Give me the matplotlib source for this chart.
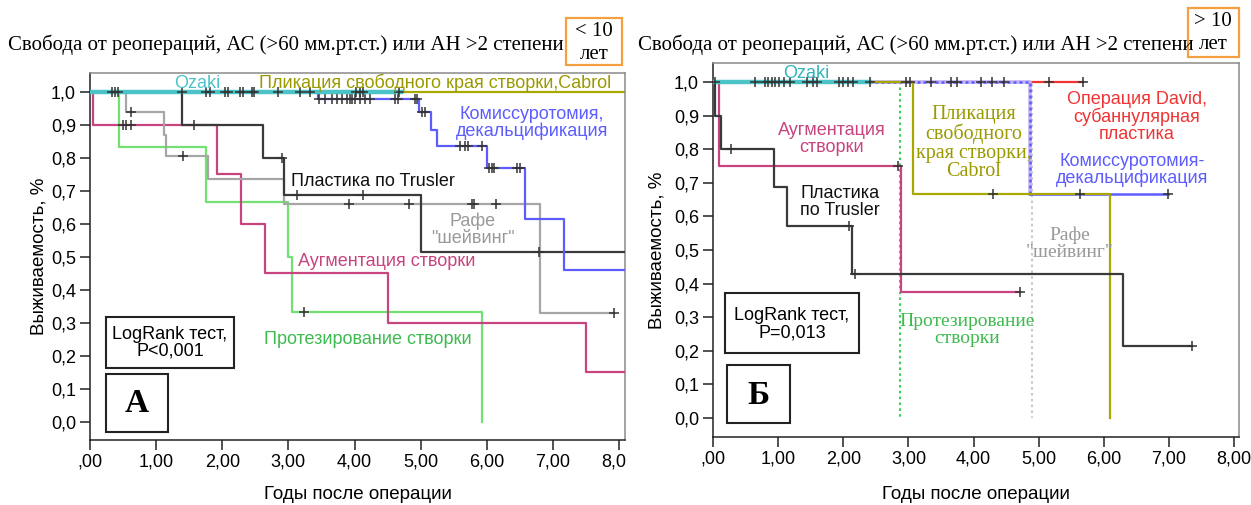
import numpy as np
import matplotlib.pyplot as plt
from matplotlib.patches import Rectangle
from matplotlib.transforms import Bbox

W, H = 1251, 505

# ---------- panel A: < 10 years ----------
ozaki_a_t = [0.0]
ozaki_a_s = [1.0]
ozaki_a_end = 4.70
ozaki_a_cens = [0.33, 0.38, 0.43, 1.39, 1.76, 1.82, 2.04, 2.09, 2.27, 2.32, 2.45, 2.48,
                2.85, 3.17, 3.33, 4.02, 4.08, 4.13, 4.68]

cabrol_a_t = [0.0]
cabrol_a_s = [1.0]
cabrol_a_end = 8.10

comm_a_t = [0.0, 3.45, 4.98, 5.15, 5.24, 6.01, 6.58, 7.17]
comm_a_s = [1.0, 0.977, 0.94, 0.885, 0.835, 0.77, 0.615, 0.46]
comm_a_end = 8.10
comm_a_cens = [3.47, 3.55, 3.66, 3.73, 3.81, 3.88, 3.93, 3.96, 4.01, 4.08, 4.16, 4.24, 4.61,
               4.66, 4.92, 4.95, 5.02, 5.07, 5.60, 5.67, 5.72, 5.93, 6.03, 6.08, 6.11,
               6.45, 6.50]

trusler_a_t = [0.0, 1.39, 2.61, 2.93, 5.01]
trusler_a_s = [1.0, 0.9, 0.8, 0.686, 0.515]
trusler_a_end = 8.10
trusler_a_cens = [1.58, 2.91, 3.13, 4.13, 6.79]

raphe_a_t = [0.0, 0.54, 1.12, 1.15, 1.79, 2.93, 6.81]
raphe_a_s = [1.0, 0.94, 0.87, 0.805, 0.735, 0.66, 0.33]
raphe_a_end = 7.92
raphe_a_cens = [0.62, 1.41, 3.91, 4.82, 5.77, 5.81, 6.14, 7.92]

aug_a_t = [0.0, 0.04, 1.92, 2.29, 2.64, 4.51, 7.50]
aug_a_s = [1.0, 0.9, 0.75, 0.6, 0.45, 0.3, 0.15]
aug_a_end = 8.10
aug_a_cens = [0.50, 0.55, 0.62]

prost_a_t = [0.0, 0.44, 1.75, 2.99, 3.05, 5.93]
prost_a_s = [1.0, 0.833, 0.667, 0.5, 0.333, 0.0]
prost_a_end = 5.93
prost_a_cens = [3.24]

# ---------- panel B: > 10 years ----------
ozaki_b_t = [0.0]
ozaki_b_s = [1.0]
ozaki_b_end = 2.41
ozaki_b_cens = [0.03, 0.65, 0.80, 0.85, 0.90, 0.95, 1.02, 1.09, 1.18, 1.45, 1.53, 1.60,
                1.93, 2.00, 2.07, 2.15, 2.41]

cabrol_b_t = [0.0, 3.07, 6.10]
cabrol_b_s = [1.0, 0.667, 0.0]
cabrol_b_end = 6.10
cabrol_b_cens = [2.97, 3.02, 4.30]

comm_b_t = [0.0, 4.86]
comm_b_s = [1.0, 0.667]
comm_b_end = 6.99
comm_b_cens = [3.35, 3.65, 3.75, 4.12, 4.29, 4.46, 5.64, 6.99]

david_b_t = [0.0]
david_b_s = [1.0]
david_b_end = 5.68
david_b_cens = [5.16, 5.68]

aug_b_t = [0.0, 0.09, 2.89]
aug_b_s = [1.0, 0.75, 0.375]
aug_b_end = 4.72
aug_b_cens = [2.84, 4.72]

trusler_b_t = [0.0, 0.03, 0.13, 0.93, 1.14, 2.14, 6.30]
trusler_b_s = [1.0, 0.9, 0.8, 0.686, 0.571, 0.429, 0.214]
trusler_b_end = 7.36
trusler_b_cens = [0.28, 2.09, 2.18, 7.36]

prost_b_t = [0.0, 2.87]
prost_b_s = [1.0, 0.0]
prost_b_end = 2.87

raphe_b_t = [0.0, 4.89]
raphe_b_s = [1.0, 0.0]
raphe_b_end = 4.89

x_ticks = [0, 1, 2, 3, 4, 5, 6, 7, 8]
x_ticklabels = [",00", "1,00", "2,00", "3,00", "4,00", "5,00", "6,00", "7,00", "8,00"]
y_ticks = [0.0, 0.1, 0.2, 0.3, 0.4, 0.5, 0.6, 0.7, 0.8, 0.9, 1.0]
y_ticklabels = ["0,0", "0,1", "0,2", "0,3", "0,4", "0,5", "0,6", "0,7", "0,8", "0,9", "1,0"]

TEAL = "#4cc3c6"
OLIVE = "#a8a800"
BLUE = "#5c5cff"
BLACK = "#3a3a3a"
GRAY = "#a6a6a6"
PINK = "#c8447f"
GREEN = "#72e072"
GREEN_TXT = "#3dbb4f"
RED = "#f03333"
MARK = "#333333"

plt.rcParams['font.family'] = ['Liberation Sans', 'DejaVu Sans']
SERIF = ['Liberation Serif', 'DejaVu Serif']


def surv_at(t, s, x):
    i = np.searchsorted(t, x, side='right') - 1
    return np.asarray(s)[i]


def km(ax, t, s, end, color, cens=(), lw=1.6, ls='-', z=2):
    xs = list(t) + [end]
    ys = list(s) + [s[-1]]
    ax.step(xs, ys, where='post', color=color, lw=lw, ls=ls, zorder=z)
    if len(cens):
        ax.plot(cens, surv_at(t, s, cens), ls='none', marker='+', color=MARK,
                ms=7, mew=1.1, zorder=z + 0.5)


def px_axes(left, right, top, bottom):
    return fig.add_axes([left / W, 1 - bottom / H, (right - left) / W, (bottom - top) / H])


def style_axes(ax, xmax, ymin, ymax):
    ax.set_xlim(0, xmax)
    ax.set_ylim(ymin, ymax)
    ax.set_xticks(x_ticks)
    ax.set_xticklabels(x_ticklabels)
    ax.set_yticks(y_ticks)
    ax.set_yticklabels(y_ticklabels)
    ax.tick_params(direction='out', length=7, width=1.1, labelsize=13, pad=3, color='#222222')
    for side in ('left', 'bottom'):
        ax.spines[side].set_color('#222222')
        ax.spines[side].set_linewidth(1.1)
    for side in ('top', 'right'):
        ax.spines[side].set_color('#8a8a8a')
        ax.spines[side].set_linewidth(1.1)
    ax.set_ylabel("Выживаемость, %", fontsize=13.5)
    ax.set_xlabel("Годы после операции", fontsize=13.5)


def box(x0, y0, x1, y1, color='#222222', lw=1.5):
    fig.add_artist(Rectangle((x0 / W, 1 - y1 / H), (x1 - x0) / W, (y1 - y0) / H,
                             transform=fig.transFigure, fill=False, ec=color, lw=lw))


def ftext(x, y, s, **kw):
    fig.text(x / W, 1 - y / H, s, ha='center', va='center', **kw)


fig = plt.figure(figsize=(W / 100, H / 100), dpi=100)

# ---------- panel A ----------
axA = px_axes(90, 625, 73, 440)
style_axes(axA, 8.09, -0.0555, 1.0567)
axA.yaxis.set_label_coords(-0.080, 0.5)
axA.xaxis.set_label_coords(0.5, -0.125)

km(axA, cabrol_a_t, cabrol_a_s, cabrol_a_end, OLIVE, z=2)
km(axA, prost_a_t, prost_a_s, prost_a_end, GREEN, prost_a_cens, z=3)
km(axA, aug_a_t, aug_a_s, aug_a_end, PINK, aug_a_cens, z=3)
km(axA, raphe_a_t, raphe_a_s, raphe_a_end, GRAY, raphe_a_cens, z=3)
km(axA, trusler_a_t, trusler_a_s, trusler_a_end, BLACK, trusler_a_cens, z=3)
km(axA, comm_a_t, comm_a_s, comm_a_end, BLUE, comm_a_cens, z=3)
km(axA, ozaki_a_t, ozaki_a_s, ozaki_a_end, TEAL, ozaki_a_cens, lw=3.2, z=4)

# clip the last x tick label of the left panel at its frame
fig.canvas.draw()
for lab in axA.get_xticklabels():
    lab.set_clip_on(True)
    lab.set_clip_box(Bbox.from_extents(0, 0, 626, H))

ftext(197, 83, "Ozaki", color=TEAL, fontsize=13)
ftext(435, 83, "Пликация свободного края створки,Cabrol", color="#9a9a00", fontsize=13)
ftext(532, 123, "Комиссуротомия,\nдекальцификация", color=BLUE, fontsize=13, linespacing=1.0)
ftext(373, 181, "Пластика по Trusler", color="#111111", fontsize=13)
ftext(473, 230, "Рафе\n\"шейвинг\"", color="#999999", fontsize=13, linespacing=1.0)
ftext(387, 262, "Аугментация створки", color=PINK, fontsize=13)
ftext(368, 339, "Протезирование створки", color=GREEN_TXT, fontsize=13)

box(106, 317, 234, 368)
ftext(170, 343, "LogRank тест,\nP<0,001", color='black', fontsize=13, linespacing=1.0)
box(106, 374, 168, 432)
ftext(137, 404, "А", color='black', fontsize=24, family=SERIF, weight='bold')

fig.text(8 / W, 1 - 45 / H, "Свобода от реопераций, АС (>60 мм.рт.ст.) или АН >2 степени",
         ha='left', va='center', family=SERIF, fontsize=15)
box(566, 18, 622, 65, color='#f5a040', lw=1.6)
ftext(594, 43, "< 10\nлет", family=SERIF, fontsize=15, linespacing=1.25)

# ---------- panel B ----------
axB = px_axes(713, 1239, 63, 437)
style_axes(axB, 8.075, -0.0565, 1.0565)
axB.yaxis.set_label_coords(-0.091, 0.5)
axB.xaxis.set_label_coords(0.5, -0.131)

km(axB, david_b_t, david_b_s, david_b_end, RED, david_b_cens, z=2)
km(axB, raphe_b_t, raphe_b_s, raphe_b_end, '#c8c8c8', lw=1.5, ls=(0, (1.2, 1.6)), z=2)
km(axB, prost_b_t, prost_b_s, prost_b_end, '#3dcc55', lw=1.5, ls=(0, (1.2, 1.6)), z=2)

# commissurotomy: dotted while at 1.0, solid after the first event
c_x = [comm_b_t[0], comm_b_t[1], comm_b_t[1]]
c_y = [comm_b_s[0], comm_b_s[0], comm_b_s[1]]
axB.plot(c_x, c_y, color='#c4b4f4', lw=2.6, zorder=2.2)
axB.plot(c_x, c_y, color=BLUE, lw=1.8, ls=(0, (1.2, 1.2)), zorder=2.3)
axB.plot([comm_b_t[1], comm_b_end], [comm_b_s[1], comm_b_s[1]], color=BLUE, lw=1.8, zorder=2.3)
axB.plot(comm_b_cens, surv_at(comm_b_t, comm_b_s, comm_b_cens), ls='none', marker='+',
         color=MARK, ms=7, mew=1.1, zorder=3.5)

km(axB, cabrol_b_t, cabrol_b_s, cabrol_b_end, OLIVE, cabrol_b_cens, z=2.6)
km(axB, aug_b_t, aug_b_s, aug_b_end, PINK, aug_b_cens, z=3)
km(axB, trusler_b_t, trusler_b_s, trusler_b_end, BLACK, trusler_b_cens, z=3)
km(axB, ozaki_b_t, ozaki_b_s, ozaki_b_end, TEAL, ozaki_b_cens, lw=3.2, z=4)

ftext(806, 73, "Ozaki", color="#2fb5b8", fontsize=13)
ftext(832, 139, "Аугментация\nстворки", color=PINK, fontsize=13, linespacing=1.05)
ftext(840, 202, "Пластика\nпо Trusler", color="#111111", fontsize=13, linespacing=1.05)
ftext(974, 143, "Пликация\nсвободного\nкрая створки,\nCabrol", color="#9a9a00",
      family=SERIF, fontsize=14.5, linespacing=0.98)
ftext(1137, 117, "Операция David,\nсубаннулярная\nпластика", color=RED, fontsize=13,
      linespacing=1.0)
ftext(1132, 170, "Комиссуротомия-\nдекальцификация", color=BLUE, fontsize=13, linespacing=1.0)
ftext(1070, 244, "Рафе\n\"шейвинг\"", color="#999999", family=SERIF, fontsize=14,
      linespacing=1.0)
ftext(967, 330, "Протезирование\nстворки", color=GREEN_TXT, family=SERIF, fontsize=14,
      linespacing=1.0)

box(725, 293, 859, 353)
ftext(792, 324, "LogRank тест,\nP=0,013", color='black', fontsize=13, linespacing=1.0)
box(727, 365, 790, 423)
ftext(758, 395, "Б", color='black', fontsize=24, family=SERIF, weight='bold')

fig.text(638 / W, 1 - 45 / H, "Свобода от реопераций, АС (>60 мм.рт.ст.) или АН >2 степени",
         ha='left', va='center', family=SERIF, fontsize=15)
box(1188, 8, 1239, 57, color='#f5a040', lw=1.6)
ftext(1213, 33, "> 10\nлет", family=SERIF, fontsize=15, linespacing=1.25)

fig.savefig("out.png", dpi=100)
